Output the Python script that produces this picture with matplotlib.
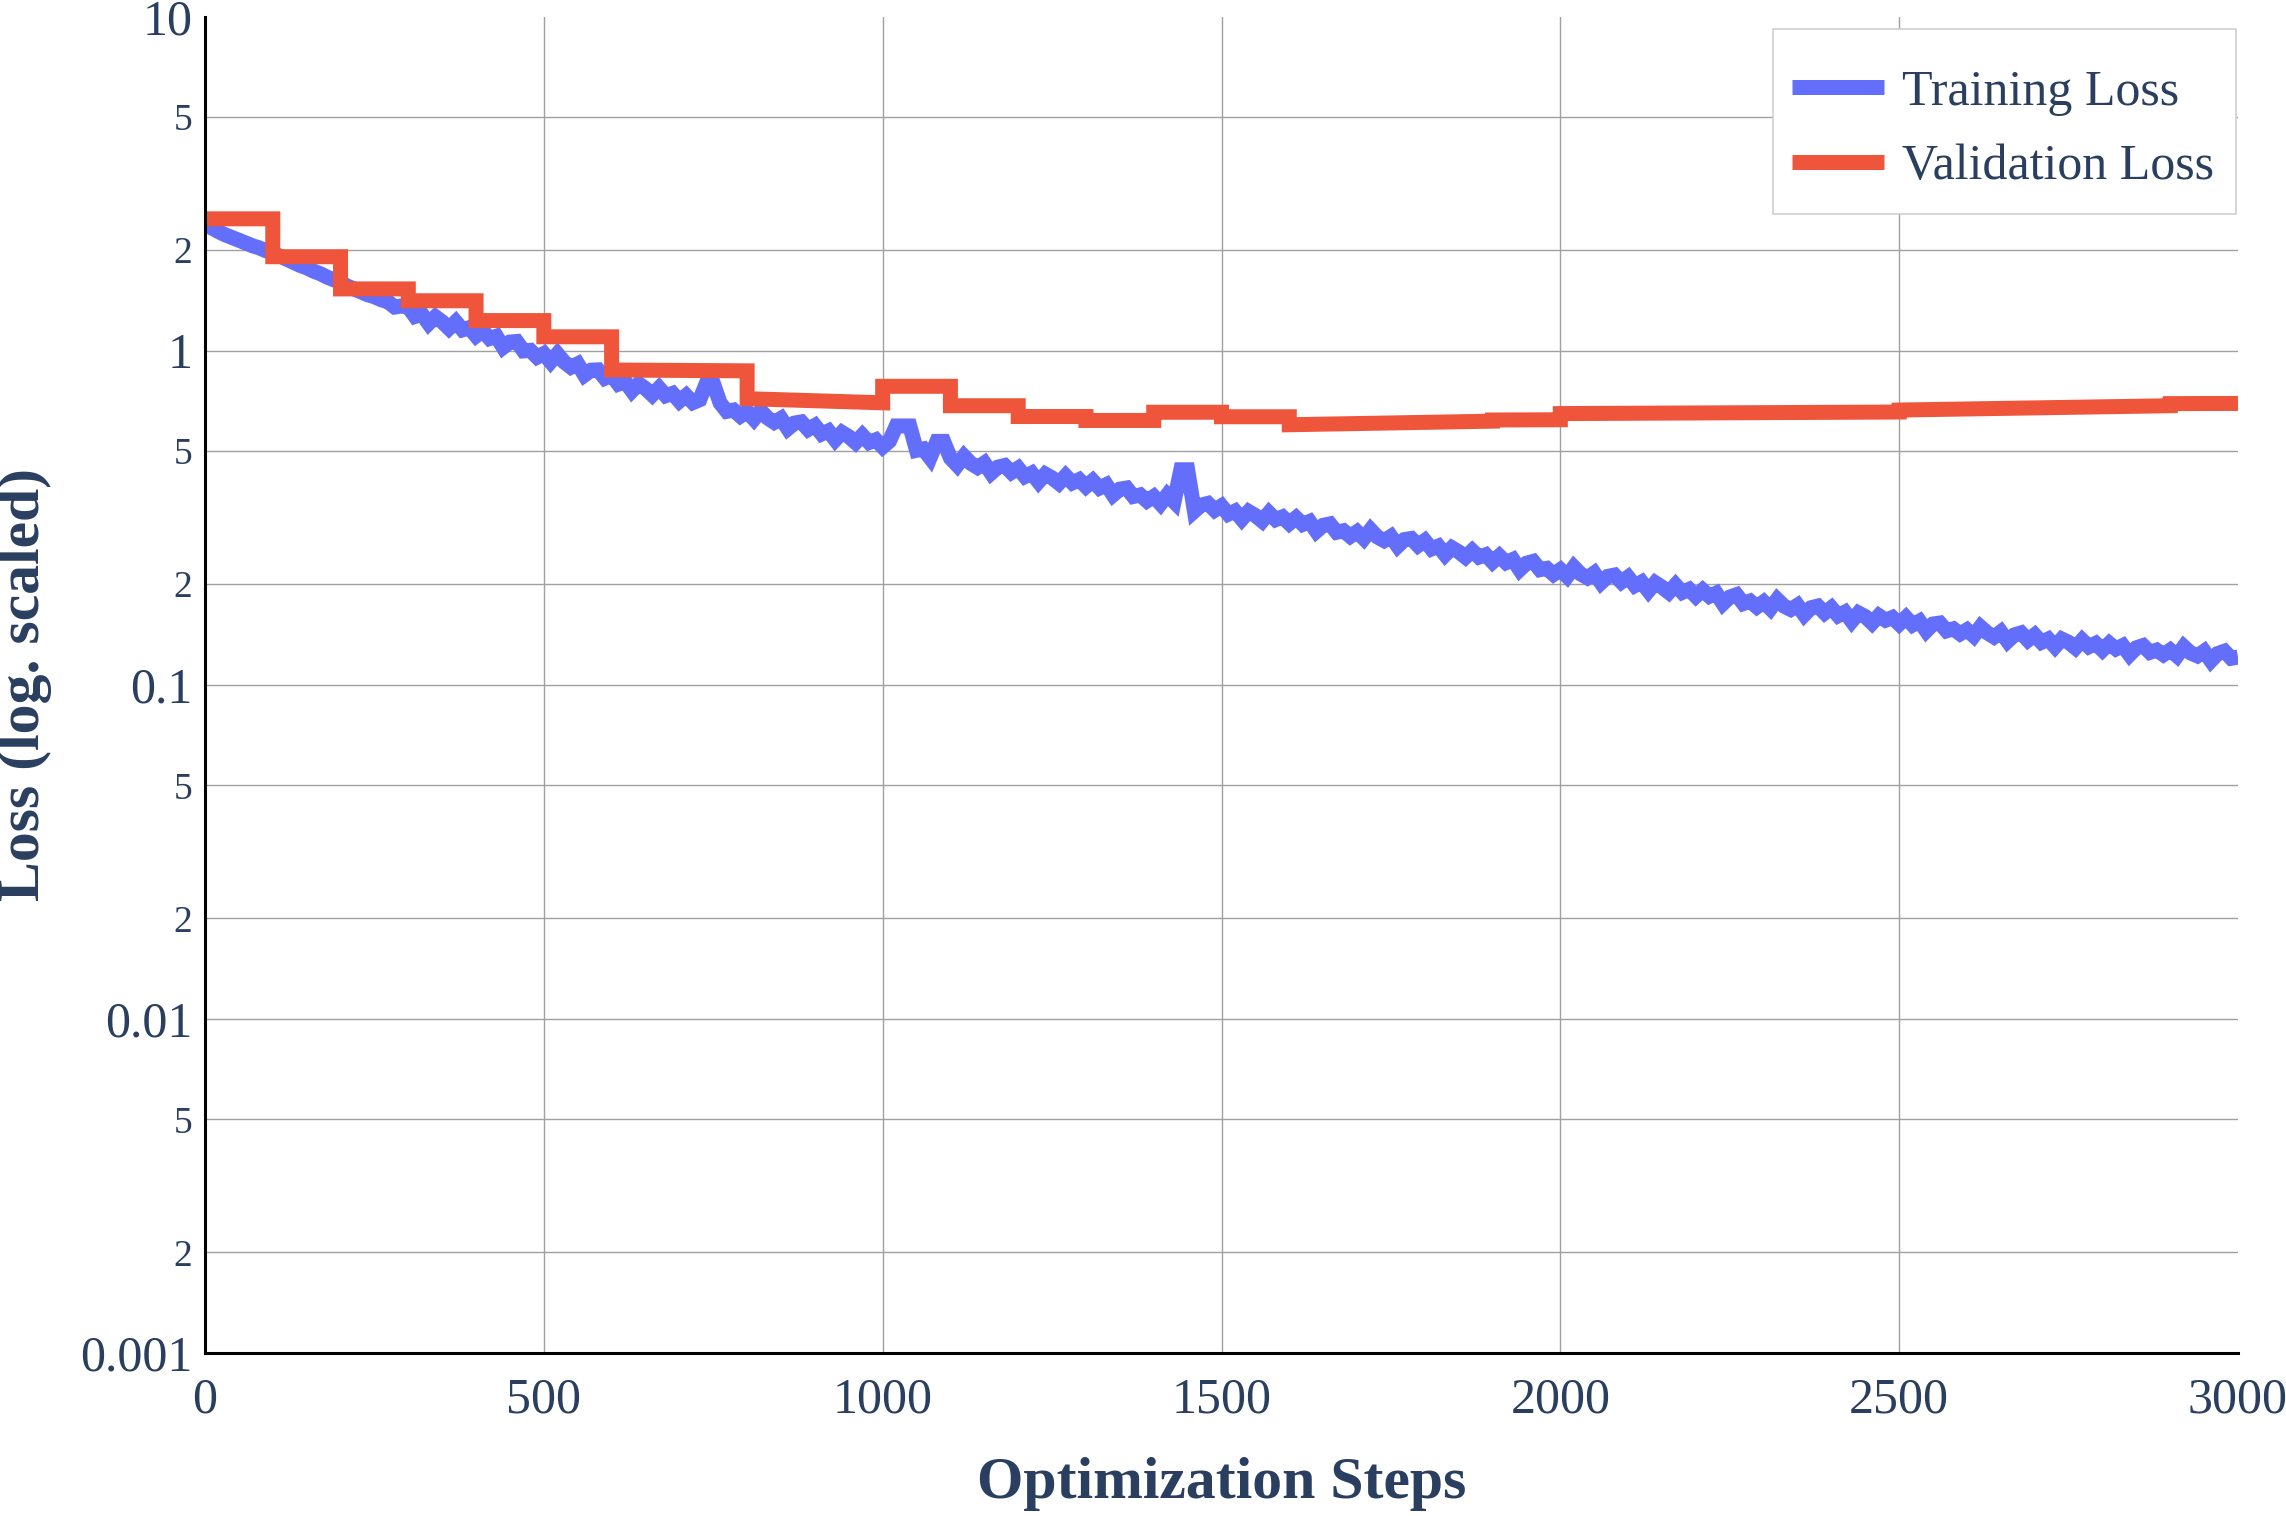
import matplotlib.pyplot as plt
from matplotlib.patches import Rectangle

# training loss, every 10 steps (one row = 100 steps)
train_steps = list(range(0, 3001, 10))
train_loss = [
    2.42, 2.33, 2.27, 2.22, 2.18, 2.14, 2.10, 2.06, 2.03, 1.99,
    1.96, 1.92, 1.88, 1.84, 1.80, 1.77, 1.73, 1.70, 1.66, 1.63,
    1.60, 1.56, 1.53, 1.50, 1.47, 1.45, 1.42, 1.40, 1.35, 1.36,
    1.35, 1.266, 1.287, 1.206, 1.263, 1.22, 1.166, 1.22, 1.154, 1.171,
    1.107, 1.147, 1.087, 1.104, 1.023, 1.061, 1.065, 0.998, 1.002, 0.956,
    0.98, 0.926, 0.978, 0.925, 0.892, 0.913, 0.845, 0.874, 0.876, 0.827,
    0.845, 0.794, 0.808, 0.758, 0.796, 0.77, 0.737, 0.773, 0.733, 0.745,
    0.706, 0.734, 0.699, 0.713, 0.80, 0.80, 0.698, 0.658, 0.664, 0.637,
    0.657, 0.624, 0.661, 0.629, 0.610, 0.627, 0.584, 0.607, 0.612, 0.581,
    0.597, 0.563, 0.575, 0.541, 0.569, 0.553, 0.531, 0.558, 0.531, 0.541,
    0.515, 0.536, 0.595, 0.595, 0.595, 0.503, 0.508, 0.478, 0.535, 0.535,
    0.477, 0.454, 0.483, 0.46, 0.447, 0.461, 0.43, 0.448, 0.453, 0.432,
    0.445, 0.42, 0.43, 0.405, 0.427, 0.416, 0.401, 0.422, 0.402, 0.411,
    0.392, 0.408, 0.388, 0.397, 0.37, 0.385, 0.388, 0.366, 0.37, 0.355,
    0.366, 0.348, 0.37, 0.353, 0.44, 0.44, 0.331, 0.345, 0.349, 0.333,
    0.343, 0.324, 0.331, 0.313, 0.33, 0.321, 0.309, 0.327, 0.312, 0.318,
    0.304, 0.316, 0.302, 0.308, 0.288, 0.30, 0.303, 0.286, 0.289, 0.278,
    0.287, 0.274, 0.291, 0.277, 0.27, 0.278, 0.26, 0.272, 0.274, 0.261,
    0.27, 0.255, 0.26, 0.245, 0.257, 0.25, 0.241, 0.252, 0.241, 0.245,
    0.233, 0.243, 0.232, 0.237, 0.221, 0.231, 0.234, 0.221, 0.223, 0.214,
    0.221, 0.211, 0.225, 0.2145, 0.209, 0.216, 0.202, 0.211, 0.213, 0.203,
    0.21, 0.198, 0.203, 0.191, 0.202, 0.196, 0.189, 0.199, 0.189, 0.193,
    0.184, 0.192, 0.184, 0.188, 0.175, 0.183, 0.186, 0.175, 0.178, 0.171,
    0.177, 0.169, 0.18, 0.172, 0.168, 0.173, 0.162, 0.17, 0.172, 0.164,
    0.17, 0.161, 0.165, 0.155, 0.164, 0.16, 0.153, 0.161, 0.156, 0.159,
    0.152, 0.159, 0.151, 0.155, 0.145, 0.152, 0.153, 0.145, 0.147, 0.142,
    0.146, 0.14, 0.149, 0.143, 0.139, 0.144, 0.135, 0.141, 0.143, 0.136,
    0.141, 0.134, 0.137, 0.13, 0.137, 0.134, 0.129, 0.136, 0.13, 0.133,
    0.127, 0.133, 0.128, 0.131, 0.123, 0.129, 0.131, 0.125, 0.127, 0.123,
    0.127, 0.122, 0.13, 0.1245, 0.122, 0.126, 0.118, 0.124, 0.126, 0.12,
    0.121,
]

# validation loss: evaluation intervals with value at start and end of each
val_bounds = [0, 100, 200, 300, 400, 500, 600, 800, 1000, 1100, 1200,
              1300, 1400, 1500, 1600, 1900, 2000, 2500, 2900, 3000]
val_start = [2.48, 1.91, 1.53, 1.41, 1.23, 1.10, 0.875, 0.718, 0.782, 0.684,
             0.635, 0.618, 0.654, 0.634, 0.600, 0.620, 0.648, 0.664, 0.694]
val_end = [2.48, 1.91, 1.53, 1.41, 1.23, 1.10, 0.870, 0.698, 0.782, 0.684,
           0.635, 0.618, 0.654, 0.634, 0.615, 0.621, 0.655, 0.684, 0.695]

major_ticks = [0.001, 0.01, 0.1, 1, 10]
major_labels = ['0.001', '0.01', '0.1', '1', '10']
minor_ticks = [0.002, 0.005, 0.02, 0.05, 0.2, 0.5, 2, 5]
minor_labels = ['2', '5', '2', '5', '2', '5', '2', '5']
x_ticks = [0, 500, 1000, 1500, 2000, 2500, 3000]

val_x, val_y = [], []
for i in range(len(val_start)):
    val_x += [val_bounds[i], val_bounds[i + 1]]
    val_y += [val_start[i], val_end[i]]

txt = '#2a3f5f'
plt.rcParams['font.family'] = ['Liberation Serif', 'DejaVu Serif']

W, H = 2286, 1516
fig = plt.figure(figsize=(W / 100, H / 100), dpi=100)
ax = fig.add_axes([205 / W, 1 - 1353 / H, (2238 - 205) / W, (1353 - 16.5) / H])

ax.plot(train_steps, train_loss, color='#636efa', lw=10.8,
        solid_joinstyle='miter', solid_capstyle='butt', label='Training Loss')
ax.plot(val_x, val_y, color='#ef553b', lw=10.8,
        solid_joinstyle='miter', solid_capstyle='butt', label='Validation Loss')

ax.set_yscale('log')
ax.set_xlim(0, 3000)
ax.set_ylim(0.001, 10)
ax.set_yticks(major_ticks, major_labels)
ax.set_yticks(minor_ticks, minor_labels, minor=True)
ax.set_xticks(x_ticks)

ax.tick_params(which='both', length=0, colors=txt)
ax.tick_params(axis='y', which='major', labelsize=36, pad=9)
ax.tick_params(axis='y', which='minor', labelsize=27, pad=9)
ax.tick_params(axis='x', labelsize=36, pad=17)

ax.grid(True, which='both', color='#a0a0a0', lw=1.0)
ax.set_axisbelow(True)
ax.yaxis.get_gridlines()[-1].set_visible(False)
ax.xaxis.get_gridlines()[-1].set_visible(False)

for s in ['top', 'right']:
    ax.spines[s].set_visible(False)
for s in ['left', 'bottom']:
    ax.spines[s].set_linewidth(2.2)
    ax.spines[s].set_color('black')

ax.set_xlabel('Optimization Steps', fontsize=43, fontweight='bold', color=txt, va='center')
ax.set_ylabel('Loss (log. scaled)', fontsize=43, fontweight='bold', color=txt, va='center')
ax.xaxis.set_label_coords(0.5, -(1484 - 1353) / (1353 - 16.5))
ax.yaxis.set_label_coords((25 - 205) / (2238 - 205), 0.5)

# legend box drawn separately so its padding can match the original
box = Rectangle((1773 / W, 1 - 214 / H), 463 / W, 185 / H, transform=fig.transFigure,
                facecolor='white', edgecolor='#cccccc', lw=1.1, zorder=4, clip_on=False)
ax.add_patch(box)
leg = ax.legend(loc='upper left', bbox_to_anchor=(1777 / W, 1 - 54 / H),
                bbox_transform=fig.transFigure, borderaxespad=0,
                fontsize=36, frameon=False, handlelength=1.84,
                handletextpad=0.36, labelspacing=0.56, borderpad=0.3)
leg.set_zorder(5)
for t in leg.get_texts():
    t.set_color(txt)

fig.savefig('out.png', dpi=100)
